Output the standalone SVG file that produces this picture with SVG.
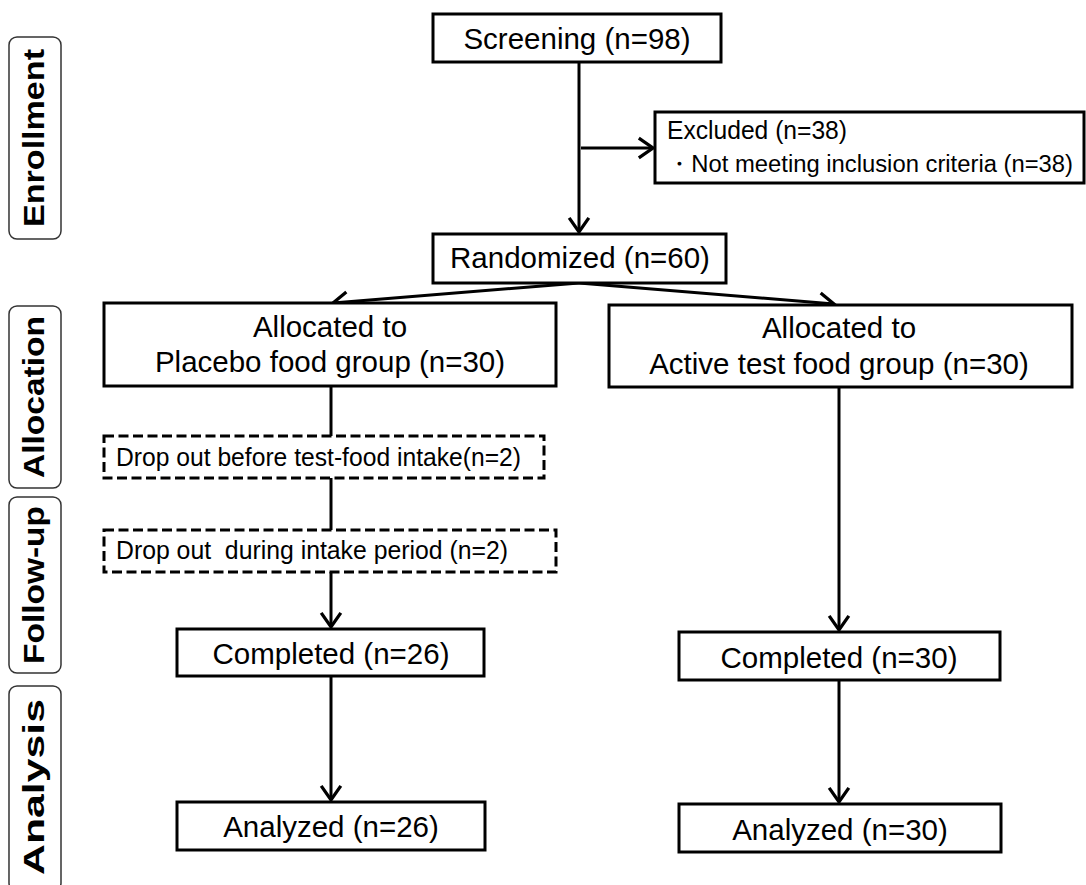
<svg xmlns="http://www.w3.org/2000/svg" width="1086" height="885" viewBox="0 0 1086 885">
<style>
.box{fill:#fff;stroke:#000;stroke-width:3}
.dash{fill:#fff;stroke:#000;stroke-width:3;stroke-dasharray:10 4.5}
.side{fill:#fff;stroke:#333;stroke-width:1.5}
.t{font-family:"Liberation Sans",Arial,sans-serif;font-size:29.5px;fill:#000;text-anchor:middle}
.s{font-family:"Liberation Sans",Arial,sans-serif;font-size:25px;fill:#000;white-space:pre}
.lab{font-family:"Liberation Sans",Arial,sans-serif;font-size:30px;font-weight:bold;fill:#000;text-anchor:middle}
.ln{fill:none;stroke:#000;stroke-width:3}
</style>
<defs>
<marker id="arr" markerUnits="userSpaceOnUse" markerWidth="20" markerHeight="24" viewBox="-15 -11 17 22" refX="0" refY="0" orient="auto">
<path d="M -13 -9 L 0 0 L -13 9" fill="none" stroke="#000" stroke-width="3"/>
</marker>
</defs>
<g id="label-enrollment"><rect class="side" x="9" y="37" width="52" height="202" rx="8"/><text class="lab" transform="translate(44,138) rotate(-90)" textLength="178" lengthAdjust="spacingAndGlyphs">Enrollment</text></g>
<g id="label-allocation"><rect class="side" x="9" y="306" width="52" height="182" rx="8"/><text class="lab" transform="translate(44,397) rotate(-90)" textLength="162" lengthAdjust="spacingAndGlyphs">Allocation</text></g>
<g id="label-followup"><rect class="side" x="9" y="497" width="52" height="176" rx="8"/><text class="lab" transform="translate(44,585) rotate(-90)" textLength="158" lengthAdjust="spacingAndGlyphs">Follow-up</text></g>
<g id="label-analysis"><rect class="side" x="9" y="686" width="52" height="205" rx="8"/><text class="lab" transform="translate(44,787) rotate(-90)" textLength="176" lengthAdjust="spacingAndGlyphs">Analysis</text></g>

<g id="connectors">
<line class="ln" x1="579" y1="62" x2="579" y2="232" marker-end="url(#arr)"/>
<line class="ln" x1="581" y1="148" x2="653" y2="148" marker-end="url(#arr)"/>
<line class="ln" x1="579" y1="283" x2="333" y2="303" marker-end="url(#arr)"/>
<line class="ln" x1="579" y1="283" x2="834" y2="304" marker-end="url(#arr)"/>
<line class="ln" x1="331" y1="386" x2="331" y2="436"/>
<line class="ln" x1="331" y1="478" x2="331" y2="530"/>
<line class="ln" x1="331" y1="572" x2="331" y2="627" marker-end="url(#arr)"/>
<line class="ln" x1="331" y1="676" x2="331" y2="800" marker-end="url(#arr)"/>
<line class="ln" x1="839" y1="387" x2="839" y2="630" marker-end="url(#arr)"/>
<line class="ln" x1="839" y1="680" x2="839" y2="802" marker-end="url(#arr)"/>
</g>

<g id="screening"><rect class="box" x="433" y="14" width="288" height="48"/><text class="t" x="577" y="49">Screening (n=98)</text></g>
<g id="excluded"><rect class="box" x="655" y="112" width="429" height="71"/><text class="s" x="667" y="139" textLength="180" lengthAdjust="spacingAndGlyphs">Excluded (n=38)</text><text class="s" x="667" y="172" style="font-size:23.5px" textLength="406" lengthAdjust="spacingAndGlyphs">・Not meeting inclusion criteria (n=38)</text></g>
<g id="randomized"><rect class="box" x="433" y="234" width="293" height="49"/><text class="t" x="580" y="268">Randomized (n=60)</text></g>
<g id="placebo"><rect class="box" x="104" y="303" width="452" height="83"/><text class="t" x="330" y="337">Allocated to</text><text class="t" x="330" y="372">Placebo food group (n=30)</text></g>
<g id="active"><rect class="box" x="609" y="305" width="463" height="82"/><text class="t" x="839" y="338">Allocated to</text><text class="t" x="839" y="374">Active test food group (n=30)</text></g>
<g id="dropout1"><rect class="dash" x="104" y="436" width="440" height="42"/><text class="s" x="116" y="466" textLength="405" lengthAdjust="spacingAndGlyphs">Drop out before test-food intake(n=2)</text></g>
<g id="dropout2"><rect class="dash" x="104" y="530" width="452" height="42"/><text class="s" x="116" y="559" textLength="392" lengthAdjust="spacingAndGlyphs" xml:space="preserve">Drop out  during intake period (n=2)</text></g>
<g id="completed-placebo"><rect class="box" x="177" y="629" width="307" height="47"/><text class="t" x="331" y="664">Completed (n=26)</text></g>
<g id="analyzed-placebo"><rect class="box" x="177" y="802" width="308" height="48"/><text class="t" x="331" y="837">Analyzed (n=26)</text></g>
<g id="completed-active"><rect class="box" x="679" y="632" width="321" height="48"/><text class="t" x="839" y="668">Completed (n=30)</text></g>
<g id="analyzed-active"><rect class="box" x="679" y="804" width="322" height="48"/><text class="t" x="840" y="840">Analyzed (n=30)</text></g>
</svg>
